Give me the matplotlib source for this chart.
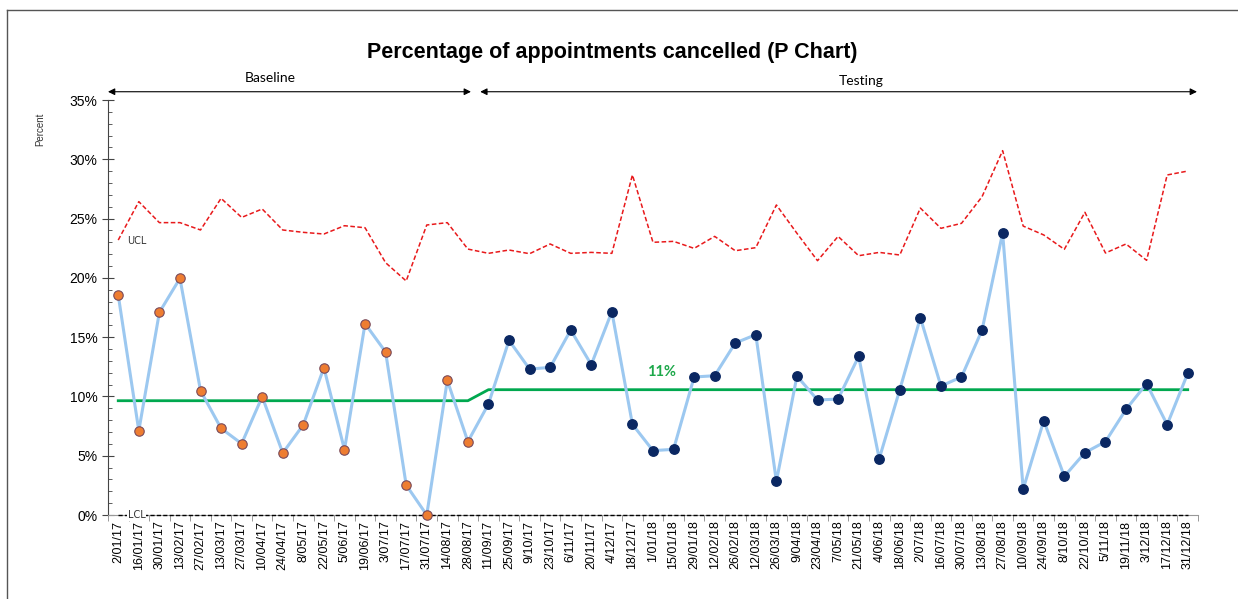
import matplotlib
matplotlib.use("Agg")
import matplotlib.pyplot as plt
from matplotlib.lines import Line2D
from matplotlib.ticker import MultipleLocator, PercentFormatter

# Fortnightly dates, baseline = first 18 points, testing = remaining 35
dates = [
    "2/01/17", "16/01/17", "30/01/17", "13/02/17", "27/02/17", "13/03/17", "27/03/17",
    "10/04/17", "24/04/17", "8/05/17", "22/05/17", "5/06/17", "19/06/17", "3/07/17",
    "17/07/17", "31/07/17", "14/08/17", "28/08/17", "11/09/17", "25/09/17", "9/10/17",
    "23/10/17", "6/11/17", "20/11/17", "4/12/17", "18/12/17", "1/01/18", "15/01/18",
    "29/01/18", "12/02/18", "26/02/18", "12/03/18", "26/03/18", "9/04/18", "23/04/18",
    "7/05/18", "21/05/18", "4/06/18", "18/06/18", "2/07/18", "16/07/18", "30/07/18",
    "13/08/18", "27/08/18", "10/09/18", "24/09/18", "8/10/18", "22/10/18", "5/11/18",
    "19/11/18", "3/12/18", "17/12/18", "31/12/18",
]
n_baseline = 18

percent_cancelled = [
    18.55, 7.11, 17.09, 19.96, 10.49, 7.31, 6.02, 9.98, 5.23, 7.62, 12.43, 5.51,
    16.14, 13.75, 2.53, 0.0, 11.36, 6.19,
    9.36, 14.73, 12.31, 12.45, 15.60, 12.68, 17.15, 7.65, 5.43, 5.54, 11.64, 11.75,
    14.51, 15.21, 2.84, 11.72, 9.70, 9.78, 13.38, 4.75, 10.57, 16.64, 10.88, 11.64,
    15.60, 23.78, 2.19, 7.96, 3.26, 5.26, 6.19, 8.91, 11.08, 7.62, 11.95,
]

ucl = [
    23.19, 26.43, 24.66, 24.66, 24.04, 26.71, 25.10, 25.81, 24.04, 23.84, 23.70, 24.40,
    24.23, 21.28, 19.74, 24.46, 24.66, 22.43,
    22.07, 22.35, 22.04, 22.86, 22.07, 22.15, 22.07, 28.68, 23.00, 23.08, 22.49, 23.50,
    22.29, 22.55, 26.15, 23.76, 21.45, 23.50, 21.87, 22.15, 21.93, 25.89, 24.18, 24.60,
    26.85, 30.73, 24.37, 23.62, 22.41, 25.53, 22.10, 22.86, 21.48, 28.68, 29.01,
]

baseline_mean = 9.64
testing_mean = 10.57

x = list(range(len(dates)))
centre = [baseline_mean] * n_baseline + [testing_mean] * (len(dates) - n_baseline)
lcl = [0.0] * len(dates)

fig = plt.figure(figsize=(12.38, 5.99), dpi=100)
ax = fig.add_axes([0.0872, 0.1402, 0.8805, 0.6928])

# chart frame (top and left edges visible)
fig.add_artist(Line2D([0.0057, 1.0], [0.983, 0.983], color="#555555", lw=1.0))
fig.add_artist(Line2D([0.0057, 0.0057], [0.0, 0.983], color="#555555", lw=1.0))

ax.plot(x, ucl, color="#E8191B", lw=1.1, ls=(0, (3, 1.6)), zorder=2)
ax.plot(x, lcl, color="black", lw=1.0, ls=(0, (3, 1.6)), zorder=3, clip_on=False)
ax.plot(x, centre, color="#00A84F", lw=2.0, zorder=2)
ax.plot(x, percent_cancelled, color="#9CC8F0", lw=2.2, zorder=3)
ax.plot(x[:n_baseline], percent_cancelled[:n_baseline], ls="none", marker="o",
        ms=6.8, mfc="#EE7D31", mec="#7A4A5A", mew=0.8, zorder=4, clip_on=False)
ax.plot(x[n_baseline:], percent_cancelled[n_baseline:], ls="none", marker="o",
        ms=6.8, mfc="#0A2762", mec="#0A2762", zorder=4, clip_on=False)

ax.text(26.4, 12.1, "11%", color="#1DA84A", fontsize=10.5, fontweight="bold",
        ha="center", va="center", family="Lato")
ax.text(0.9, 23.1, "UCL", fontsize=7, color="#333333", ha="center", va="center")
ax.text(0.9, 0.0, "LCL", fontsize=7, color="#333333", ha="center", va="center",
        bbox=dict(fc="white", ec="none", pad=0.5), zorder=5)

ax.set_xlim(-0.5, len(dates) - 0.5)
ax.set_ylim(0, 35)
ax.set_xticks(x)
ax.set_xticklabels(dates, rotation=90, fontsize=9, family="Liberation Sans")
ax.set_xticks([i - 0.5 for i in range(len(dates) + 1)], minor=True)
ax.tick_params(axis="x", which="major", length=0, pad=4)
ax.tick_params(axis="x", which="minor", length=4, direction="out", color="#888888")

ax.yaxis.set_major_locator(MultipleLocator(5))
ax.yaxis.set_minor_locator(MultipleLocator(1))
ax.yaxis.set_major_formatter(PercentFormatter(decimals=0))
ax.tick_params(axis="y", which="major", length=8, direction="inout", labelsize=10,
               color="#444444")
ax.tick_params(axis="y", which="minor", length=3, direction="in", color="#444444")
for lbl in ax.get_yticklabels():
    lbl.set_family("Liberation Sans")

ax.spines["top"].set_visible(False)
ax.spines["right"].set_visible(False)
ax.spines["left"].set_color("#444444")
ax.spines["bottom"].set_color("#999999")

ax.text(-0.062, 0.93, "Percent", transform=ax.transAxes, rotation=90, fontsize=7,
        ha="center", va="center", family="Liberation Sans", color="#333333")

fig.text(0.4945, 0.913, "Percentage of appointments cancelled (P Chart)",
         ha="center", va="center", fontsize=15.5, fontweight="bold",
         family="Liberation Sans")

# phase arrows
arrow_y = 35.7
ax.annotate("", xy=(-0.5, arrow_y), xytext=(17.15, arrow_y), annotation_clip=False,
            arrowprops=dict(arrowstyle="<|-|>", color="black", lw=0.8,
                            mutation_scale=10, shrinkA=0, shrinkB=0))
ax.annotate("", xy=(17.6, arrow_y), xytext=(52.45, arrow_y), annotation_clip=False,
            arrowprops=dict(arrowstyle="<|-|>", color="black", lw=0.8,
                            mutation_scale=10, shrinkA=0, shrinkB=0))
ax.text(7.4, 36.9, "Baseline", ha="center", va="center", fontsize=10, family="Lato")
ax.text(36.1, 36.6, "Testing", ha="center", va="center", fontsize=10, family="Lato")

fig.savefig("out.png", dpi=100)
